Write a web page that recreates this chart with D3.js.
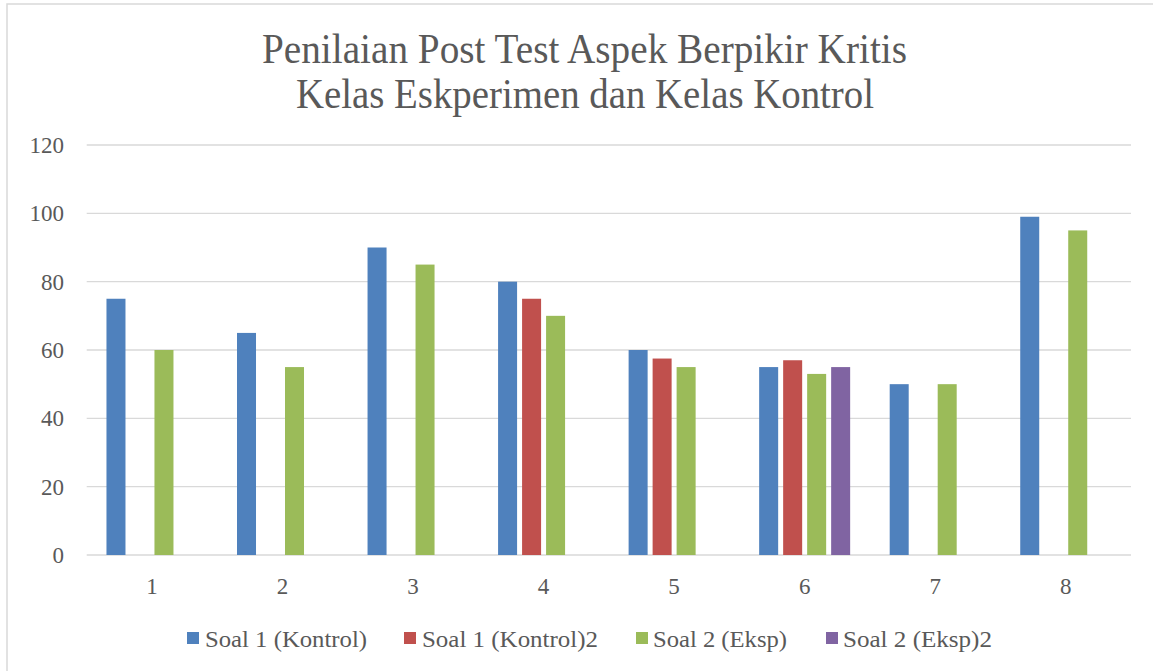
<!DOCTYPE html>
<html>
<head>
<meta charset="utf-8">
<script src="https://cdn.jsdelivr.net/npm/d3@7"></script>
<style>
  html, body { margin: 0; padding: 0; background: #ffffff; }
  svg { display: block; }
</style>
</head>
<body>
<svg id="chart" width="1153" height="671"></svg>
<script>
// ---- data ----
const categories = ["1", "2", "3", "4", "5", "6", "7", "8"];
const seriesNames = ["Soal 1 (Kontrol)", "Soal 1 (Kontrol)2", "Soal 2 (Eksp)", "Soal 2 (Eksp)2"];
const soal1Kontrol  = [75, 65, 90, 80, 60, 55, 50, 99];
const soal1Kontrol2 = [null, null, null, 75, 57.5, 57, null, null];
const soal2Eksp     = [60, 55, 85, 70, 55, 53, 50, 95];
const soal2Eksp2    = [null, null, null, null, null, 55, null, null];
const yTicks = [0, 20, 40, 60, 80, 100, 120];
const titleLines = ["Penilaian Post Test Aspek Berpikir Kritis", "Kelas Eskperimen dan Kelas Kontrol"];
const colors = ["#4f81bd", "#c0504d", "#9bbb59", "#8064a2"];

const seriesValues = [soal1Kontrol, soal1Kontrol2, soal2Eksp, soal2Eksp2];

// ---- layout ----
const svg = d3.select("#chart");
const plot = { left: 86.7, right: 1131, top: 145, bottom: 555 };
const textColor = "#595959";
const fontFamily = "'Liberation Serif', 'DejaVu Serif', serif";

// chart area border
svg.append("rect")
  .attr("x", 7).attr("y", 4)
  .attr("width", 1170).attr("height", 690)
  .attr("fill", "#ffffff")
  .attr("stroke", "#d9d9d9")
  .attr("stroke-width", 1.5);

const x0 = d3.scaleBand().domain(categories).range([plot.left, plot.right]).padding(0);
const x1 = d3.scaleBand().domain(seriesNames).range([-45.5, 45.5]).paddingInner(0.208).paddingOuter(0);
const y = d3.scaleLinear().domain([0, 120]).range([plot.bottom, plot.top]);

// gridlines
svg.append("g")
  .selectAll("line")
  .data(yTicks)
  .join("line")
  .attr("x1", plot.left).attr("x2", plot.right)
  .attr("y1", d => y(d)).attr("y2", d => y(d))
  .attr("stroke", "#d9d9d9")
  .attr("stroke-width", 1.3);

// y-axis labels
const yAxis = d3.axisLeft(y).tickValues(yTicks).tickSize(0).tickPadding(0);
const gy = svg.append("g").attr("transform", "translate(64,0)").call(yAxis);
gy.select(".domain").remove();
gy.selectAll("text")
  .attr("fill", textColor)
  .attr("font-family", fontFamily)
  .attr("font-size", 23)
  .attr("dy", "0.33em");

// x-axis labels
const xAxis = d3.axisBottom(x0).tickSize(0).tickPadding(0);
const gx = svg.append("g").attr("transform", `translate(0,${plot.bottom})`).call(xAxis);
gx.select(".domain").remove();
gx.selectAll("text")
  .attr("fill", textColor)
  .attr("font-family", fontFamily)
  .attr("font-size", 23)
  .attr("dy", 0)
  .attr("y", 39);

// bars
const barData = [];
categories.forEach((c, i) => {
  seriesNames.forEach((s, j) => {
    const v = seriesValues[j][i];
    if (v !== null && v !== undefined) barData.push({ cat: c, series: s, value: v, color: colors[j] });
  });
});

svg.append("g")
  .selectAll("rect")
  .data(barData)
  .join("rect")
  .attr("x", d => x0(d.cat) + x0.bandwidth() / 2 + x1(d.series))
  .attr("width", x1.bandwidth())
  .attr("y", d => y(d.value))
  .attr("height", d => y(0) - y(d.value))
  .attr("fill", d => d.color);

// title
const titleSpecs = [
  { cx: 584.5, baseline: 63, len: 645 },
  { cx: 585, baseline: 108, len: 578 }
];
svg.append("g")
  .selectAll("text")
  .data(titleLines)
  .join("text")
  .attr("x", (d, i) => titleSpecs[i].cx)
  .attr("y", (d, i) => titleSpecs[i].baseline)
  .attr("text-anchor", "middle")
  .attr("textLength", (d, i) => titleSpecs[i].len)
  .attr("lengthAdjust", "spacingAndGlyphs")
  .attr("fill", textColor)
  .attr("font-family", fontFamily)
  .attr("font-size", 43)
  .text(d => d);

// legend
const legendSpecs = [
  { sq: 187, tx: 205, len: 162 },
  { sq: 404, tx: 422, len: 176 },
  { sq: 636, tx: 653, len: 134 },
  { sq: 826, tx: 843, len: 149 }
];
const lg = svg.append("g");
seriesNames.forEach((s, i) => {
  lg.append("rect")
    .attr("x", legendSpecs[i].sq).attr("y", 632)
    .attr("width", 12).attr("height", 12)
    .attr("fill", colors[i]);
  lg.append("text")
    .attr("x", legendSpecs[i].tx).attr("y", 647)
    .attr("textLength", legendSpecs[i].len)
    .attr("lengthAdjust", "spacingAndGlyphs")
    .attr("fill", textColor)
    .attr("font-family", fontFamily)
    .attr("font-size", 24)
    .text(s);
});
</script>
</body>
</html>
